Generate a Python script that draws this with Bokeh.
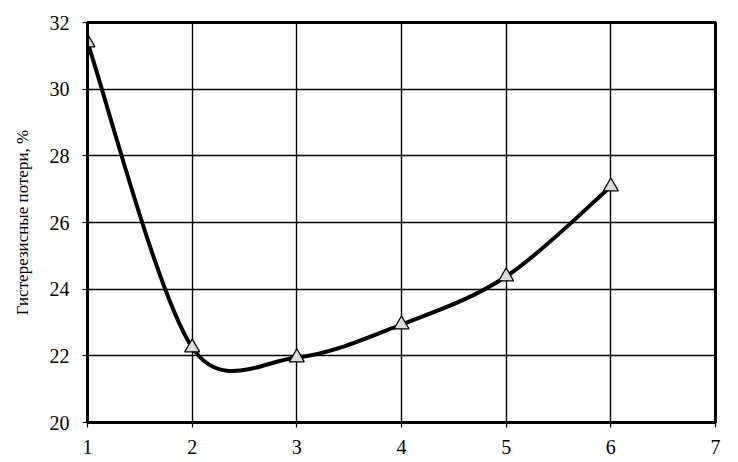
import math
from bokeh.plotting import figure
from bokeh.models import FixedTicker, Range1d
from bokeh.embed import file_html
from bokeh.resources import INLINE

# Data
x_vals = [1, 2, 3, 4, 5, 6]
y_vals = [31.4, 22.25, 21.95, 22.94, 24.38, 27.08]
x_ticks = [1, 2, 3, 4, 5, 6, 7]
y_ticks = [20, 22, 24, 26, 28, 30, 32]
y_label = "Гистерезисные потери, %"

X_MIN, X_MAX = 1, 7
Y_MIN, Y_MAX = 20, 32

W, H = 730, 456
BL, BR, BT, BB = 87, 15, 22, 34
frame_w = W - BL - BR
frame_h = H - BT - BB
sx = frame_w / (X_MAX - X_MIN)
sy = frame_h / (Y_MAX - Y_MIN)

FONT = "Liberation Serif"

p = figure(width=W, height=H, output_backend="svg", toolbar_location=None,
           x_range=Range1d(X_MIN, X_MAX), y_range=Range1d(Y_MIN, Y_MAX),
           min_border_left=BL, min_border_right=BR, min_border_top=BT, min_border_bottom=BB)

# Excel-like smoothed bezier segments computed from the data
def smooth_segments(xs, ys):
    pts = [(x * sx, y * sy) for x, y in zip(xs, ys)]
    n = len(pts)
    def d(a, b):
        return math.hypot(a[0] - b[0], a[1] - b[1])
    segs = {k: [] for k in ("x0", "y0", "x1", "y1", "cx0", "cy0", "cx1", "cy1")}
    for i in range(n - 1):
        p0 = pts[max(i - 1, 0)]
        p1 = pts[i]
        p2 = pts[i + 1]
        p3 = pts[min(i + 2, n - 1)]
        d02, d12, d13 = d(p0, p2), d(p1, p2), d(p1, p3)
        f1 = 1 / 6
        if d02 / 6 >= d12 / 2 and d02 > 0:
            f1 = d12 / d02 / 2
        f2 = 1 / 6
        if d13 / 6 >= d12 / 2 and d13 > 0:
            f2 = d12 / d13 / 2
        c1 = (p1[0] + (p2[0] - p0[0]) * f1, p1[1] + (p2[1] - p0[1]) * f1)
        c2 = (p2[0] - (p3[0] - p1[0]) * f2, p2[1] - (p3[1] - p1[1]) * f2)
        segs["x0"].append(p1[0] / sx); segs["y0"].append(p1[1] / sy)
        segs["x1"].append(p2[0] / sx); segs["y1"].append(p2[1] / sy)
        segs["cx0"].append(c1[0] / sx); segs["cy0"].append(c1[1] / sy)
        segs["cx1"].append(c2[0] / sx); segs["cy1"].append(c2[1] / sy)
    return segs

segs = smooth_segments(x_vals, y_vals)
p.bezier(x0=segs["x0"], y0=segs["y0"], x1=segs["x1"], y1=segs["y1"],
         cx0=segs["cx0"], cy0=segs["cy0"], cx1=segs["cx1"], cy1=segs["cy1"],
         line_color="black", line_width=4)

p.scatter(x_vals, y_vals, marker="triangle", size=15, fill_color="#dcdcdc",
          line_color="black", line_width=1.2)

# Axes
p.xaxis.ticker = FixedTicker(ticks=x_ticks)
p.yaxis.ticker = FixedTicker(ticks=y_ticks)
for ax in (p.xaxis[0], p.yaxis[0]):
    ax.axis_line_color = "black"
    ax.axis_line_width = 3
    ax.major_tick_line_color = "black"
    ax.major_tick_line_width = 1.2
    ax.major_tick_in = 0
    ax.major_tick_out = 5
    ax.minor_tick_line_color = None
    ax.major_label_text_font = FONT
    ax.major_label_text_font_size = "20px"
    ax.major_label_text_color = "black"
p.xaxis.major_label_standoff = 12
p.yaxis.major_label_standoff = 13

p.yaxis.axis_label = y_label
p.yaxis.axis_label_text_font = FONT
p.yaxis.axis_label_text_font_style = "normal"
p.yaxis.axis_label_text_font_size = "17px"
p.yaxis.axis_label_text_color = "black"
p.yaxis.axis_label_standoff = 15

p.xgrid.grid_line_color = "black"
p.xgrid.grid_line_width = 1.4
p.ygrid.grid_line_color = "black"
p.ygrid.grid_line_width = 1.4
p.xgrid.ticker = FixedTicker(ticks=x_ticks)
p.ygrid.ticker = FixedTicker(ticks=y_ticks)

p.outline_line_color = "black"
p.outline_line_width = 3
p.background_fill_color = "white"
p.border_fill_color = "white"

open("out.html", "w").write(file_html(p, INLINE))
